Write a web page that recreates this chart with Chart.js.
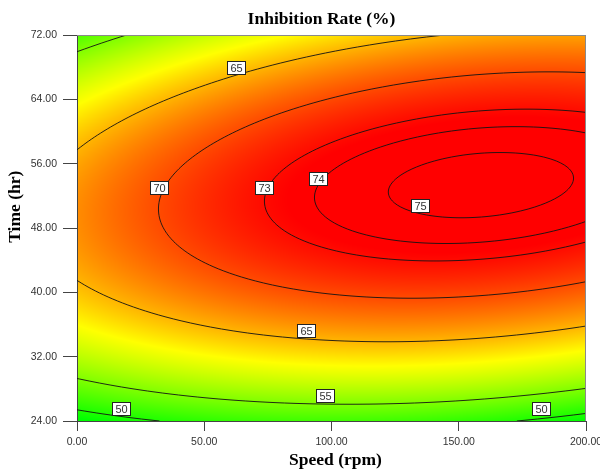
<!DOCTYPE html>
<html>
<head>
<meta charset="utf-8">
<script src="https://cdn.jsdelivr.net/npm/chart.js@4.4.0/dist/chart.umd.min.js"></script>
<style>
  html, body { margin: 0; padding: 0; background: #ffffff; }
  #wrap { width: 600px; height: 472px; }
</style>
</head>
<body>
<div id="wrap"><canvas id="chart" width="600" height="472"></canvas></div>
<script>
// ---------------- data ----------------
const speeds = [0, 25, 50, 75, 100, 125, 150, 175, 200];      // Speed (rpm) grid
const times  = [24, 32, 40, 48, 56, 64, 72];                    // Time (hr) grid

// Inhibition rate (%) read along each time row, one value per speed column
const rateAt24h = [48.00, 49.61, 50.77, 51.48, 51.75, 51.58, 50.96, 49.89, 48.38];
const rateAt32h = [57.96, 59.84, 61.27, 62.26, 62.80, 62.90, 62.55, 61.75, 60.52];
const rateAt40h = [64.24, 66.38, 68.09, 69.35, 70.16, 70.53, 70.45, 69.93, 68.96];
const rateAt48h = [66.82, 69.24, 71.22, 72.75, 73.83, 74.47, 74.67, 74.42, 73.72];
const rateAt56h = [65.72, 68.41, 70.65, 72.46, 73.81, 74.72, 75.19, 75.21, 74.79];
const rateAt64h = [60.92, 63.89, 66.40, 68.48, 70.11, 71.29, 72.03, 72.32, 72.17];
const rateAt72h = [52.44, 55.68, 58.47, 60.81, 62.71, 64.17, 65.18, 65.74, 65.86];
const rates = [rateAt24h, rateAt32h, rateAt40h, rateAt48h, rateAt56h, rateAt64h, rateAt72h];

const contourLevels = [50, 55, 65, 70, 73, 74, 75];

// contour label annotations
const labelTexts  = ['65', '70', '73', '74', '75', '65', '55', '50', '50'];
const labelSpeeds = [62.5, 32.4, 73.5, 94.5, 134.8, 89.9, 97.4, 17.4, 182.3];
const labelTimes  = [67.9, 53.0, 53.0, 54.2, 50.8, 35.3, 27.2, 25.6, 25.5];

const xTickValues = [0, 50, 100, 150, 200];
const yTickValues = [24, 32, 40, 48, 56, 64, 72];

const chartTitle = 'Inhibition Rate (%)';
const xAxisTitle = 'Speed (rpm)';
const yAxisTitle = 'Time (hr)';

// ---------------- styles ----------------
const colorStops = [
  { v: 48.5, c: [0, 255, 0] },
  { v: 61.5, c: [255, 255, 0] },
  { v: 73.5, c: [255, 0, 0] }
];
const serifBold = 'bold 17.5px "Liberation Serif", "Times New Roman", serif';
const sansTick = '"Liberation Sans", Arial, sans-serif';

// ---------------- surface evaluation from the grid ----------------
const nX = speeds.length, nY = times.length;
function gridRaw(i, j) {
  if (i < 0) return 3 * gridRaw(0, j) - 3 * gridRaw(1, j) + gridRaw(2, j);
  if (i > nX - 1) return 3 * gridRaw(nX - 1, j) - 3 * gridRaw(nX - 2, j) + gridRaw(nX - 3, j);
  if (j < 0) return 3 * gridRaw(i, 0) - 3 * gridRaw(i, 1) + gridRaw(i, 2);
  if (j > nY - 1) return 3 * gridRaw(i, nY - 1) - 3 * gridRaw(i, nY - 2) + gridRaw(i, nY - 3);
  return rates[j][i];
}
const ext = [];
for (let j = -1; j <= nY; j++) {
  const row = [];
  for (let i = -1; i <= nX; i++) row.push(gridRaw(i, j));
  ext.push(row);
}
function E(i, j) { return ext[j + 1][i + 1]; }
function cr(p0, p1, p2, p3, u) {
  return 0.5 * (2 * p1 + (-p0 + p2) * u + (2 * p0 - 5 * p1 + 4 * p2 - p3) * u * u + (-p0 + 3 * p1 - 3 * p2 + p3) * u * u * u);
}
function field(s, t) {
  const fx = (s - speeds[0]) / (speeds[1] - speeds[0]);
  const fy = (t - times[0]) / (times[1] - times[0]);
  const i = Math.max(0, Math.min(nX - 2, Math.floor(fx)));
  const j = Math.max(0, Math.min(nY - 2, Math.floor(fy)));
  const u = fx - i, w = fy - j;
  const r = [];
  for (let k = -1; k <= 2; k++) {
    r.push(cr(E(i - 1, j + k), E(i, j + k), E(i + 1, j + k), E(i + 2, j + k), u));
  }
  return cr(r[0], r[1], r[2], r[3], w);
}
function colorFor(v) {
  if (v <= colorStops[0].v) return colorStops[0].c;
  for (let k = 1; k < colorStops.length; k++) {
    if (v <= colorStops[k].v) {
      const a = colorStops[k - 1], b = colorStops[k];
      const f = (v - a.v) / (b.v - a.v);
      return [a.c[0] + (b.c[0] - a.c[0]) * f, a.c[1] + (b.c[1] - a.c[1]) * f, a.c[2] + (b.c[2] - a.c[2]) * f];
    }
  }
  return colorStops[colorStops.length - 1].c;
}

// ---------------- plugin drawing the surface, contours and labels ----------------
const surfacePlugin = {
  id: 'surface',
  beforeDraw(chart) {
    const { ctx, chartArea: a, scales } = chart;
    const x0 = Math.round(a.left), y0 = Math.round(a.top);
    const w = Math.round(a.right) - x0, h = Math.round(a.bottom) - y0;
    const off = document.createElement('canvas');
    off.width = w; off.height = h;
    const octx = off.getContext('2d');
    const img = octx.createImageData(w, h);
    const d = img.data;
    for (let py = 0; py < h; py++) {
      const t = scales.y.getValueForPixel(y0 + py + 0.5);
      for (let px = 0; px < w; px++) {
        const s = scales.x.getValueForPixel(x0 + px + 0.5);
        const c = colorFor(field(s, t));
        const o = (py * w + px) * 4;
        d[o] = c[0]; d[o + 1] = c[1]; d[o + 2] = c[2]; d[o + 3] = 255;
      }
    }
    octx.putImageData(img, 0, 0);
    ctx.drawImage(off, x0, y0);
  },
  afterDatasetsDraw(chart) {
    const { ctx, chartArea: a, scales } = chart;
    const step = 2;
    const nx = Math.ceil((a.right - a.left) / step) + 1;
    const ny = Math.ceil((a.bottom - a.top) / step) + 1;
    const PX = [], PY = [];
    for (let i = 0; i < nx; i++) PX.push(Math.min(a.left + i * step, a.right));
    for (let j = 0; j < ny; j++) PY.push(Math.min(a.top + j * step, a.bottom));
    const vals = new Float64Array(nx * ny);
    for (let j = 0; j < ny; j++) {
      const t = scales.y.getValueForPixel(PY[j]);
      for (let i = 0; i < nx; i++) vals[j * nx + i] = field(scales.x.getValueForPixel(PX[i]), t);
    }
    ctx.save();
    ctx.beginPath();
    ctx.rect(a.left, a.top, a.right - a.left, a.bottom - a.top);
    ctx.clip();
    ctx.strokeStyle = 'rgba(20,20,20,0.9)';
    ctx.lineWidth = 1;
    for (const L of contourLevels) {
      ctx.beginPath();
      for (let j = 0; j < ny - 1; j++) {
        for (let i = 0; i < nx - 1; i++) {
          const v00 = vals[j * nx + i], v10 = vals[j * nx + i + 1];
          const v01 = vals[(j + 1) * nx + i], v11 = vals[(j + 1) * nx + i + 1];
          const pts = [];
          const edge = (va, vb, xa, ya, xb, yb) => {
            if ((va - L) * (vb - L) < 0) {
              const f = (L - va) / (vb - va);
              pts.push([xa + (xb - xa) * f, ya + (yb - ya) * f]);
            }
          };
          edge(v00, v10, PX[i], PY[j], PX[i + 1], PY[j]);
          edge(v10, v11, PX[i + 1], PY[j], PX[i + 1], PY[j + 1]);
          edge(v11, v01, PX[i + 1], PY[j + 1], PX[i], PY[j + 1]);
          edge(v01, v00, PX[i], PY[j + 1], PX[i], PY[j]);
          for (let k = 0; k + 1 < pts.length; k += 2) {
            ctx.moveTo(pts[k][0], pts[k][1]);
            ctx.lineTo(pts[k + 1][0], pts[k + 1][1]);
          }
        }
      }
      ctx.stroke();
    }
    ctx.restore();

    // frame (top and right)
    ctx.save();
    ctx.strokeStyle = '#8a8a8a';
    ctx.lineWidth = 1;
    ctx.beginPath();
    ctx.moveTo(a.left, Math.round(a.top) + 0.5);
    ctx.lineTo(a.right, Math.round(a.top) + 0.5);
    ctx.moveTo(Math.round(a.right) - 0.5, a.top);
    ctx.lineTo(Math.round(a.right) - 0.5, a.bottom);
    ctx.stroke();
    ctx.restore();

    // contour labels
    ctx.save();
    ctx.font = '11px ' + sansTick;
    ctx.textAlign = 'center';
    ctx.textBaseline = 'middle';
    for (let k = 0; k < labelTexts.length; k++) {
      const cx = scales.x.getPixelForValue(labelSpeeds[k]);
      const cy = scales.y.getPixelForValue(labelTimes[k]);
      const tw = ctx.measureText(labelTexts[k]).width;
      const bw = Math.round(tw + 6), bh = 13;
      const bx = Math.round(cx - bw / 2) + 0.5, by = Math.round(cy - bh / 2) + 0.5;
      ctx.fillStyle = '#ffffff';
      ctx.fillRect(bx, by, bw, bh);
      ctx.strokeStyle = '#222222';
      ctx.lineWidth = 1;
      ctx.strokeRect(bx, by, bw, bh);
      ctx.fillStyle = '#333333';
      ctx.fillText(labelTexts[k], bx + bw / 2, by + bh / 2 + 0.5);
    }
    ctx.restore();
  },
  afterDraw(chart) {
    const { ctx } = chart;
    ctx.save();
    ctx.fillStyle = '#000000';
    ctx.font = serifBold;
    ctx.textAlign = 'center';
    ctx.textBaseline = 'alphabetic';
    ctx.fillText(chartTitle, 321.5, 24);
    ctx.fillText(xAxisTitle, 335.5, 465);
    ctx.translate(20, 206.7);
    ctx.rotate(-Math.PI / 2);
    ctx.fillText(yAxisTitle, 0, 0);
    ctx.restore();
  }
};

// ---------------- chart ----------------
const gridPoints = [];
times.forEach((t, j) => speeds.forEach((s, i) => gridPoints.push({ x: s, y: t, v: rates[j][i] })));

new Chart(document.getElementById('chart'), {
  type: 'scatter',
  data: {
    datasets: [{
      label: 'Inhibition Rate (%)',
      data: gridPoints,
      pointRadius: 0,
      pointHoverRadius: 0,
      showLine: false
    }]
  },
  options: {
    responsive: false,
    animation: false,
    events: [],
    layout: { padding: { top: 35, right: 14, left: 0, bottom: 0 } },
    plugins: {
      legend: { display: false },
      tooltip: { enabled: false },
      title: { display: false }
    },
    scales: {
      x: {
        type: 'linear',
        min: 0, max: 200,
        afterBuildTicks: (s) => { s.ticks = xTickValues.map(v => ({ value: v })); },
        afterFit: (s) => { s.height = 51; s.paddingLeft = 0; s.paddingRight = 0; },
        ticks: {
          callback: (v) => Number(v).toFixed(2),
          font: { family: sansTick, size: 10.5 },
          color: '#333333',
          padding: 5,
          maxRotation: 0,
          autoSkip: false
        },
        grid: { display: true, drawOnChartArea: false, drawTicks: true, tickLength: 10, tickColor: '#444444', color: '#444444' },
        border: { display: true, color: '#444444', width: 1 }
      },
      y: {
        type: 'linear',
        min: 24, max: 72,
        afterBuildTicks: (s) => { s.ticks = yTickValues.map(v => ({ value: v })); },
        afterFit: (s) => { s.width = 77; s.paddingTop = 0; s.paddingBottom = 0; },
        ticks: {
          callback: (v) => Number(v).toFixed(2),
          font: { family: sansTick, size: 10.5 },
          color: '#333333',
          padding: 6,
          autoSkip: false
        },
        grid: { display: true, drawOnChartArea: false, drawTicks: true, tickLength: 14, tickColor: '#444444', color: '#444444' },
        border: { display: true, color: '#444444', width: 1 }
      }
    }
  },
  plugins: [surfacePlugin]
});
</script>
</body>
</html>
